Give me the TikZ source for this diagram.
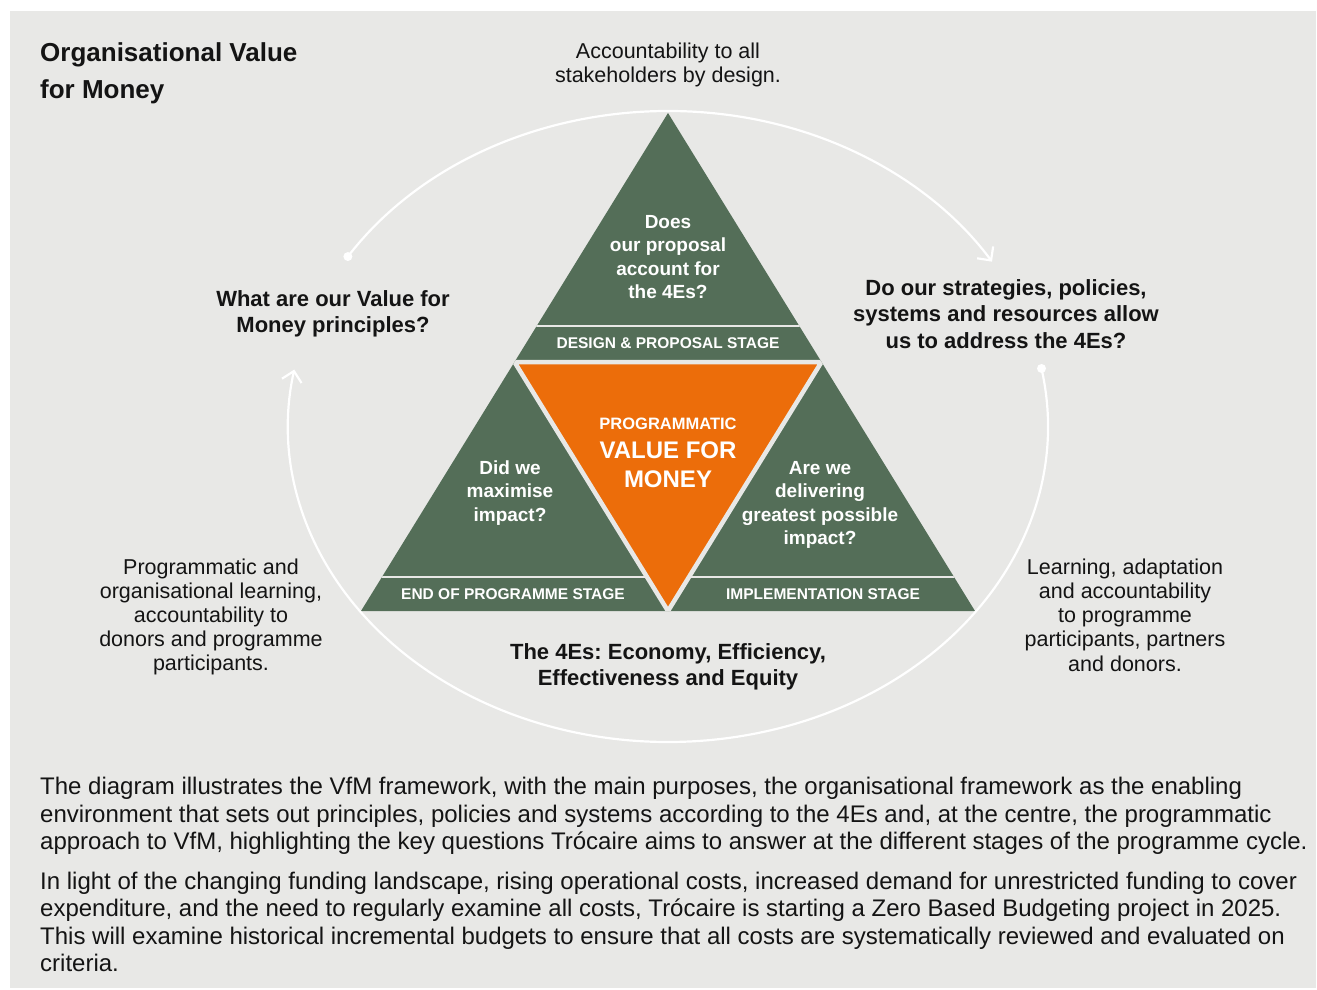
\documentclass[tikz,border=0pt]{standalone}
\usepackage{fontspec}
\setmainfont{Liberation Sans}
\usetikzlibrary{arrows.meta, calc}

\definecolor{paper}{HTML}{E8E8E6}
\definecolor{leaf}{HTML}{546E58}
\definecolor{flame}{HTML}{EC6D0A}
\definecolor{ink}{HTML}{141414}

\frenchspacing

\begin{document}
\begin{tikzpicture}[
  x=1pt, y=-1pt,
  heading/.style={font=\fontsize{26}{37}\selectfont\bfseries, text=ink, align=left, inner sep=0pt},
  question/.style={font=\fontsize{22}{26.5}\selectfont\bfseries, text=ink, align=center, inner sep=0pt},
  sidenote/.style={font=\fontsize{21.5}{24.2}\selectfont, text=ink, align=center, inner sep=0pt},
  inside/.style={font=\fontsize{19}{23.3}\selectfont\bfseries, text=white, align=center, inner sep=0pt},
  stagelabel/.style={font=\fontsize{15.5}{18}\selectfont\bfseries, text=white, inner sep=0pt},
  bodytext/.style={font=\fontsize{24}{27.3}\selectfont, text=ink, align=left, inner sep=0pt},
  orbit/.style={draw=white, line width=2.2pt, -{Straight Barb[length=10pt,width=20pt]}},
  gap/.style={draw=paper, line width=4.5pt},
  band/.style={draw=paper, line width=2pt}
]
\fill[white] (0,0) rectangle (1317,989);
\fill[paper] (10,11) rectangle (1316,988);
\useasboundingbox (0,0) rectangle (1317,989);

% triangle split into four
\coordinate (apex) at (668,113);
\coordinate (lft) at (361,611);
\coordinate (rgt) at (975,611);
\coordinate (ml) at ($(apex)!0.5!(lft)$);
\coordinate (mr) at ($(apex)!0.5!(rgt)$);
\coordinate (mb) at ($(lft)!0.5!(rgt)$);

\fill[leaf] (apex) -- (lft) -- (rgt) -- cycle;
\begin{scope}
  \clip (apex) -- (lft) -- (rgt) -- cycle;
  \draw[band] (340,326) -- (1000,326);
  \draw[band] (340,577) -- (1000,577);
  \filldraw[fill=flame, gap] (ml) -- (mr) -- (mb) -- cycle;
\end{scope}

% the cycle round it
\coordinate (hub) at (668,426.5);
\draw[orbit] (hub) ++(-147.4:380 and 315.5) coordinate (s1)
  arc[start angle=-147.4, end angle=-31.5, x radius=380, y radius=315.5];
\draw[orbit] (hub) ++(-10.6:380 and 315.5) coordinate (s2)
  arc[start angle=-10.6, end angle=190.4, x radius=380, y radius=315.5];
\fill[white] (s1) circle[radius=4.5];
\fill[white] (s2) circle[radius=4.5];

\node[heading, anchor=west] (title) at (40,73) {Organisational Value\\for Money};
\node[sidenote] (design) at (668,65) {Accountability to all\\stakeholders by design.};
\node[question] (principles) at (333,314) {What are our Value for\\Money principles?};
\node[question] (policies) at (1006,314) {Do our strategies, policies,\\systems and resources allow\\us to address the 4Es?};
\node[question] (fourEs) at (668,667) {The 4Es: Economy, Efficiency,\\Effectiveness and Equity};
\node[sidenote] (learnL) at (211,617) {Programmatic and\\organisational learning,\\accountability to\\donors and programme\\participants.};
\node[sidenote] (learnR) at (1125,615) {Learning, adaptation\\and accountability\\to programme\\participants, partners\\and donors.};

\node[inside] (proposal) at (668,257) {Does\\our proposal\\account for\\the 4Es?};
\node[inside] (maximise) at (510,493) {Did we\\maximise\\impact?};
\node[inside] (delivering) at (820,505) {Are we\\delivering\\greatest possible\\impact?};
\node[stagelabel, font=\fontsize{16.5}{19}\selectfont\bfseries] (prog) at (668,424) {PROGRAMMATIC};
\node[inside, font=\fontsize{24}{29}\selectfont\bfseries] (vfm) at (668,464.5) {VALUE FOR\\MONEY};

\node[stagelabel] (designstage) at (668,343.5) {DESIGN \& PROPOSAL STAGE};
\node[stagelabel] (endstage) at (513,594.5) {END OF PROGRAMME STAGE};
\node[stagelabel] (implstage) at (823,594.5) {IMPLEMENTATION STAGE};

\node[bodytext, anchor=west] (para1) at (40,816) {The diagram illustrates the VfM framework, with the main purposes, the organisational framework as the enabling\\environment that sets out principles, policies and systems according to the 4Es and, at the centre, the programmatic\\approach to VfM, highlighting the key questions Trócaire aims to answer at the different stages of the programme cycle.};
\node[bodytext, anchor=west] (para2) at (40,922) {In light of the changing funding landscape, rising operational costs, increased demand for unrestricted funding to cover\\expenditure, and the need to regularly examine all costs, Trócaire is starting a Zero Based Budgeting project in 2025.\\This will examine historical incremental budgets to ensure that all costs are systematically reviewed and evaluated on\\criteria.};
\end{tikzpicture}
\end{document}
